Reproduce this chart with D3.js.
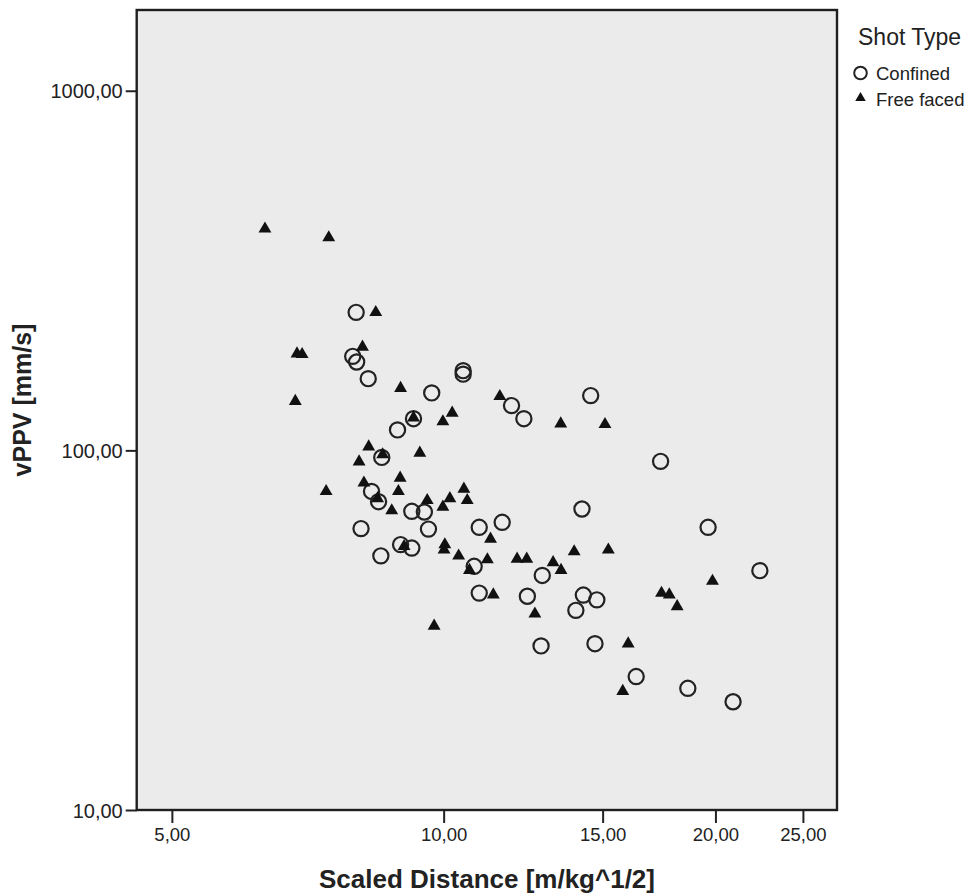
<!DOCTYPE html>
<html>
<head>
<meta charset="utf-8">
<script src="https://cdn.jsdelivr.net/npm/d3@7"></script>
<style>
  body { margin: 0; background: #fff; }
  svg text { font-family: "Liberation Sans", Arial, sans-serif; fill: #222; }
</style>
</head>
<body>
<div class="chart"></div>
<script>
// Scaled distance vs vPPV, log-log scatter by shot type

// Confined shots
var confinedSD = [8.00, 7.93, 8.01, 8.25, 9.70, 10.51, 10.51, 9.26, 8.89, 8.54,
  8.32, 8.47, 9.22, 9.52, 8.10, 9.62, 10.95, 11.61, 8.52, 8.96,
  9.22, 10.81, 10.95, 11.89, 12.27, 14.55, 17.39, 14.23, 12.86, 12.38,
  14.28, 14.78, 14.01, 12.82, 14.71, 16.34, 18.64, 20.92, 19.63, 22.40];
var confinedPPV = [242.0, 182.6, 176.1, 158.3, 144.5, 166.6, 162.9, 122.5, 114.0, 95.6,
  76.9, 72.0, 67.7, 67.4, 60.6, 60.4, 61.1, 63.1, 50.9, 54.7,
  53.5, 47.6, 40.1, 133.2, 122.5, 142.0, 93.2, 68.7, 44.9, 39.3,
  39.6, 38.4, 35.9, 28.6, 29.0, 23.5, 21.8, 20.0, 61.1, 46.3];

// Free faced shots
var freeSD = [6.34, 7.46, 8.41, 6.88, 6.97, 8.13, 6.85, 8.96, 11.54, 9.26,
  10.22, 9.98, 8.26, 8.56, 8.06, 9.41, 8.95, 8.16, 8.91, 8.45,
  8.76, 9.59, 10.16, 9.98, 10.53, 10.62, 7.41, 11.27, 9.04, 10.03,
  10.01, 10.39, 11.18, 10.68, 11.35, 9.76, 13.48, 15.09, 12.06, 12.36,
  13.22, 13.49, 13.95, 15.22, 12.62, 17.43, 17.78, 18.14, 16.01, 19.85,
  15.79];
var freePPV = [412.9, 390.5, 242.0, 185.7, 184.9, 193.9, 136.9, 148.8, 141.3, 123.3,
  127.1, 120.2, 102.4, 97.3, 93.0, 98.3, 83.8, 81.2, 76.9, 73.5,
  68.0, 72.6, 73.5, 69.6, 78.1, 72.6, 76.9, 56.7, 54.1, 54.7,
  52.9, 50.9, 49.7, 46.4, 39.7, 32.5, 118.6, 118.1, 49.9, 49.9,
  48.8, 46.4, 52.3, 52.9, 35.1, 40.1, 39.7, 36.8, 29.0, 43.3,
  21.4];

var xTicks = [5, 10, 15, 20, 25];
var yTicks = [10, 100, 1000];
var legendLabels = ["Confined", "Free faced"];

var svgWidth = 976;
var svgHeight = 894;
var plot = { left: 136.7, right: 837, top: 10, bottom: 810 };

var svg = d3.select(".chart")
  .append("svg")
  .attr("width", svgWidth)
  .attr("height", svgHeight);

// log scales, domain ends read from the frame edges
var x = d3.scaleLog()
  .domain([4.571, 27.27])
  .range([plot.left, plot.right]);

var y = d3.scaleLog()
  .domain([10, 1677])
  .range([plot.bottom, plot.top]);

var fmt = function(d) { return d3.format(".2f")(d).replace(".", ","); };

// plot background
svg.append("rect")
  .attr("x", plot.left)
  .attr("y", plot.top)
  .attr("width", plot.right - plot.left)
  .attr("height", plot.bottom - plot.top)
  .attr("fill", "#ebebeb");

// axes
var xAxis = svg.append("g")
  .attr("transform", `translate(0, ${plot.bottom})`)
  .call(d3.axisBottom(x).tickValues(xTicks).tickFormat(fmt).tickSize(13).tickSizeOuter(0));

var yAxis = svg.append("g")
  .attr("transform", `translate(${plot.left}, 0)`)
  .call(d3.axisLeft(y).tickValues(yTicks).tickFormat(fmt).tickSize(11).tickSizeOuter(0));

[xAxis, yAxis].forEach(function(g) {
  g.select(".domain").remove();
  g.selectAll(".tick line").attr("stroke", "#222").attr("stroke-width", 2);
  g.selectAll(".tick text")
    .style("font-family", "'Liberation Sans', Arial, sans-serif")
    .attr("fill", "#222");
});
xAxis.selectAll(".tick text").attr("font-size", "18.5px").attr("y", 18).attr("dy", "0.71em");
yAxis.selectAll(".tick text").attr("font-size", "20px").attr("x", -14).attr("dy", "0.36em");

// frame
svg.append("rect")
  .attr("x", plot.left)
  .attr("y", plot.top)
  .attr("width", plot.right - plot.left)
  .attr("height", plot.bottom - plot.top)
  .attr("fill", "none")
  .attr("stroke", "#1e1e1e")
  .attr("stroke-width", 2.4);

// points
var confined = confinedSD.map(function(d, i) { return { sd: d, ppv: confinedPPV[i] }; });
var free = freeSD.map(function(d, i) { return { sd: d, ppv: freePPV[i] }; });

svg.append("g").selectAll("circle")
  .data(confined)
  .enter()
  .append("circle")
  .attr("cx", d => x(d.sd))
  .attr("cy", d => y(d.ppv))
  .attr("r", 7.6)
  .attr("fill", "none")
  .attr("stroke", "#222")
  .attr("stroke-width", 2.2);

var tri = d3.symbol().type(d3.symbolTriangle).size(72);
svg.append("g").selectAll("path")
  .data(free)
  .enter()
  .append("path")
  .attr("d", tri)
  .attr("transform", d => `translate(${x(d.sd)}, ${y(d.ppv)})`)
  .attr("fill", "#111");

// axis titles
svg.append("text")
  .attr("x", 487)
  .attr("y", 888)
  .attr("text-anchor", "middle")
  .attr("font-size", "26px")
  .attr("font-weight", "bold")
  .text("Scaled Distance [m/kg^1/2]");

svg.append("text")
  .attr("transform", "translate(31, 400) rotate(-90)")
  .attr("text-anchor", "middle")
  .attr("font-size", "25px")
  .attr("font-weight", "bold")
  .text("vPPV [mm/s]");

// legend
var legend = svg.append("g");
legend.append("text")
  .attr("x", 858)
  .attr("y", 45)
  .attr("font-size", "23px")
  .text("Shot Type");

legend.append("circle")
  .attr("cx", 860.5)
  .attr("cy", 73)
  .attr("r", 6.3)
  .attr("fill", "none")
  .attr("stroke", "#222")
  .attr("stroke-width", 2);

legend.append("path")
  .attr("d", d3.symbol().type(d3.symbolTriangle).size(48))
  .attr("transform", "translate(860.5, 98)")
  .attr("fill", "#111");

legend.selectAll("text.item")
  .data(legendLabels)
  .enter()
  .append("text")
  .attr("class", "item")
  .attr("x", 876)
  .attr("y", (d, i) => 80 + i * 26)
  .attr("font-size", "18.5px")
  .text(d => d);
</script>
</body>
</html>
